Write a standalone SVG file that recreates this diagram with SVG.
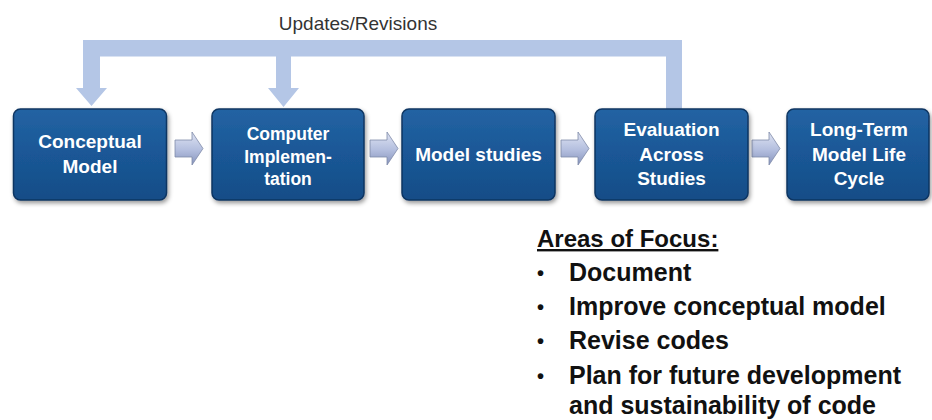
<svg xmlns="http://www.w3.org/2000/svg" width="932" height="420" viewBox="0 0 932 420">
  <defs>
    <linearGradient id="boxFill" x1="0" y1="0" x2="0" y2="1">
      <stop offset="0" stop-color="#2363a3"/>
      <stop offset="0.5" stop-color="#1a5796"/>
      <stop offset="1" stop-color="#164d87"/>
    </linearGradient>
    <linearGradient id="stepFill" x1="0" y1="0" x2="0" y2="1">
      <stop offset="0" stop-color="#dfe4f3"/>
      <stop offset="0.55" stop-color="#b3bede"/>
      <stop offset="1" stop-color="#8794bd"/>
    </linearGradient>
    <filter id="shadow" x="-10%" y="-10%" width="125%" height="130%">
      <feDropShadow dx="1.5" dy="2.5" stdDeviation="2" flood-color="#000" flood-opacity="0.4"/>
    </filter>
    <path id="step" d="M0 8 H17 V0 L28 16.5 L17 33 V25 H0 Z"/>
  </defs>
  <style>
    .box { fill: url(#boxFill); stroke: #0e3562; stroke-width: 1.5; filter: url(#shadow); }
    .lbl { font-family: "Liberation Sans", Arial, sans-serif; font-weight: bold; fill: #ffffff; text-anchor: middle; font-size: 19px; }
    .lbl.small { font-size: 17.5px; }
    .step { fill: url(#stepFill); stroke: #7f8aa8; stroke-width: 0.8; }
    .loop { fill: #b4c6e6; }
    .caption { font-family: "Liberation Sans", Arial, sans-serif; font-size: 19px; fill: #333; text-anchor: middle; }
    .focus { font-family: "Liberation Sans", Arial, sans-serif; font-weight: bold; font-size: 25px; fill: #111; }
    .focus .head { font-size: 24px; }
    .focus .dot { font-size: 20px; }
  </style>

  <rect width="932" height="420" fill="#ffffff"/>

  <!-- connectors: feedback loop and step arrows -->
  <g id="connectors">
    <path class="loop" d="M83 40 H682 V110 H666 V56.5 H291 V88 H299 L283.5 107 L268 88 H276 V56.5 H100 V88 H107 L91.5 106 L76 88 H83 Z"/>
    <use href="#step" class="step" transform="translate(175 132)"/>
    <use href="#step" class="step" transform="translate(370 132)"/>
    <use href="#step" class="step" transform="translate(561 132)"/>
    <use href="#step" class="step" transform="translate(752 132)"/>
  </g>

  <text class="caption" x="358" y="30">Updates/Revisions</text>

  <g id="conceptual-model">
    <rect class="box" x="13.5" y="109" width="153" height="91" rx="7"/>
    <text class="lbl" x="90" y="148">Conceptual</text>
    <text class="lbl" x="90" y="173">Model</text>
  </g>

  <g id="computer-implementation">
    <rect class="box" x="212" y="109" width="152" height="91" rx="7"/>
    <text class="lbl small" x="288" y="140">Computer</text>
    <text class="lbl small" x="288" y="163">Implemen-</text>
    <text class="lbl small" x="288" y="185">tation</text>
  </g>

  <g id="model-studies">
    <rect class="box" x="402" y="109" width="153" height="91" rx="7"/>
    <text class="lbl" x="478.5" y="161">Model studies</text>
  </g>

  <g id="evaluation">
    <rect class="box" x="595" y="109" width="153" height="91" rx="7"/>
    <text class="lbl" x="671.5" y="136">Evaluation</text>
    <text class="lbl" x="671.5" y="161">Across</text>
    <text class="lbl" x="671.5" y="185">Studies</text>
  </g>

  <g id="long-term">
    <rect class="box" x="787" y="109" width="142" height="91" rx="7"/>
    <text class="lbl" x="859" y="136">Long-Term</text>
    <text class="lbl" x="859" y="161">Model Life</text>
    <text class="lbl" x="859" y="185">Cycle</text>
  </g>

  <g id="areas-of-focus" class="focus">
    <text class="head" x="537" y="247" text-decoration="underline">Areas of Focus:</text>
    <text class="dot" x="537" y="280">•</text><text x="569" y="281">Document</text>
    <text class="dot" x="537" y="314">•</text><text x="569" y="315">Improve conceptual model</text>
    <text class="dot" x="537" y="348">•</text><text x="569" y="349">Revise codes</text>
    <text class="dot" x="537" y="383">•</text><text x="569" y="384">Plan for future development</text>
    <text x="569" y="414">and sustainability of code</text>
  </g>
</svg>
